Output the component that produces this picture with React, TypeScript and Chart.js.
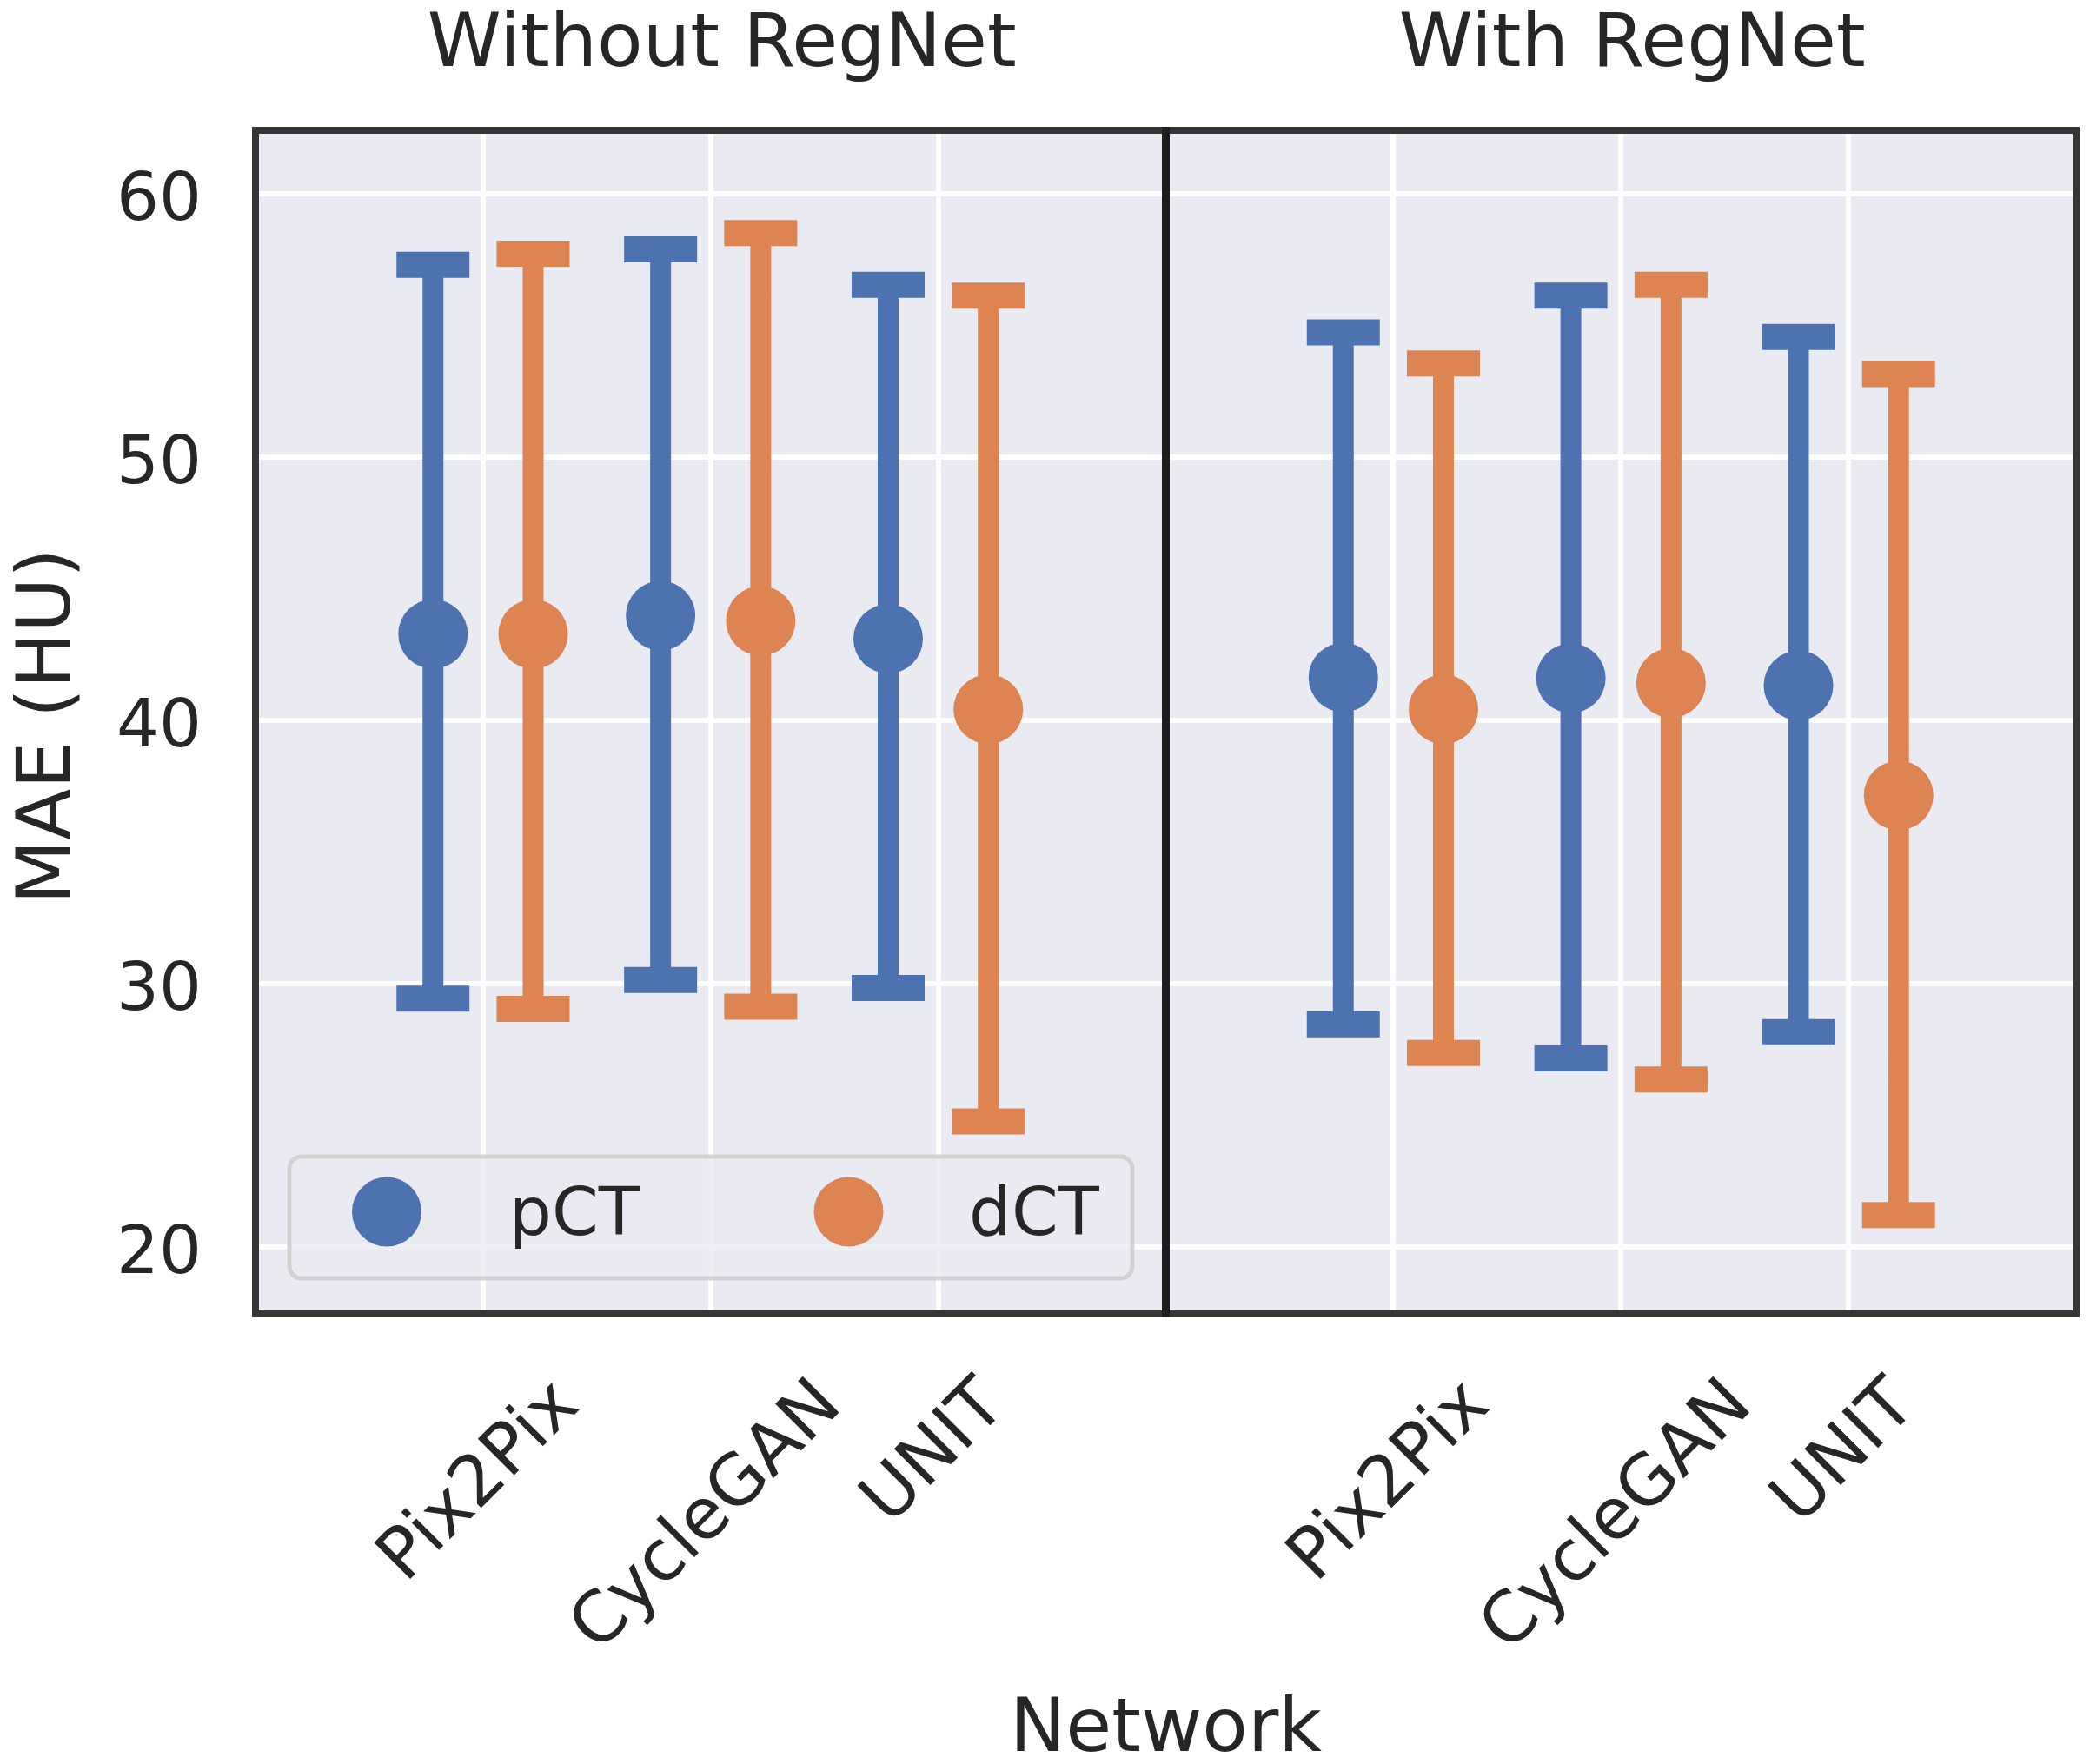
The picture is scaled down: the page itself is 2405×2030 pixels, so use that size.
import React, { useEffect, useRef } from 'react';
import { Chart, registerables } from 'chart.js';

Chart.register(...registerables);

// ---------------- data ----------------
const CATEGORIES = ['Pix2Pix', 'CycleGAN', 'UNIT'];
const CATEGORY_POSITIONS = [0, 1, 2];
const PANEL_TITLES = ['Without RegNet', 'With RegNet'];
const SERIES_NAMES = ['pCT', 'dCT'];
const Y_TICKS = [20, 30, 40, 50, 60];
const Y_LABEL = 'MAE (HU)';
const X_LABEL = 'Network';

// Without RegNet
const PCT_WITHOUT_MEAN = [43.27, 43.97, 43.09];
const PCT_WITHOUT_LOW = [29.42, 30.13, 29.83];
const PCT_WITHOUT_HIGH = [57.29, 57.88, 56.53];
const DCT_WITHOUT_MEAN = [43.27, 43.77, 40.41];
const DCT_WITHOUT_LOW = [29.03, 29.12, 24.76];
const DCT_WITHOUT_HIGH = [57.71, 58.5, 56.12];

// With RegNet
const PCT_WITH_MEAN = [41.62, 41.59, 41.32];
const PCT_WITH_LOW = [28.45, 27.15, 28.15];
const PCT_WITH_HIGH = [54.73, 56.12, 54.55];
const DCT_WITH_MEAN = [40.41, 41.41, 37.14];
const DCT_WITH_LOW = [27.36, 26.35, 21.2];
const DCT_WITH_HIGH = [53.55, 56.53, 53.14];

// ---------------- style ----------------
const BLUE = '#4c72b0';
const ORANGE = '#dd8452';
const SERIES_COLORS = [BLUE, ORANGE];
const BG = '#eaeaf2';
const TEXT = '#262626';
const FONT = '"DejaVu Sans", sans-serif';
const DODGE = 0.22;
const PANEL_AXES = ['xL', 'xR'];

type Series = { mean: number[]; low: number[]; high: number[] };

const PANELS: { axis: string; series: Series[] }[] = [
  {
    axis: 'xL',
    series: [
      { mean: PCT_WITHOUT_MEAN, low: PCT_WITHOUT_LOW, high: PCT_WITHOUT_HIGH },
      { mean: DCT_WITHOUT_MEAN, low: DCT_WITHOUT_LOW, high: DCT_WITHOUT_HIGH },
    ],
  },
  {
    axis: 'xR',
    series: [
      { mean: PCT_WITH_MEAN, low: PCT_WITH_LOW, high: PCT_WITH_HIGH },
      { mean: DCT_WITH_MEAN, low: DCT_WITH_LOW, high: DCT_WITH_HIGH },
    ],
  },
];

function buildDatasets() {
  const ds: any[] = [];
  PANELS.forEach((panel) => {
    panel.series.forEach((s, si) => {
      const off = si === 0 ? -DODGE : DODGE;
      const color = SERIES_COLORS[si];
      const stem: any[] = [];
      CATEGORY_POSITIONS.forEach((c, i) => {
        stem.push({ x: c + off, y: s.low[i] }, { x: c + off, y: s.high[i] }, { x: c + off, y: null });
      });
      ds.push({
        type: 'line',
        label: SERIES_NAMES[si] + ' sd',
        xAxisID: panel.axis,
        yAxisID: 'y',
        data: stem,
        borderColor: color,
        borderWidth: 24,
        borderCapStyle: 'butt',
        pointRadius: 0,
        pointHoverRadius: 0,
        spanGaps: false,
        fill: false,
        tension: 0,
        order: 2,
      });
      const caps: any[] = [];
      CATEGORY_POSITIONS.forEach((c, i) => {
        caps.push({ x: c + off, y: s.low[i] }, { x: c + off, y: s.high[i] });
      });
      ds.push({
        type: 'scatter',
        label: SERIES_NAMES[si] + ' caps',
        xAxisID: panel.axis,
        yAxisID: 'y',
        data: caps,
        pointStyle: 'line',
        pointRadius: 42,
        pointHoverRadius: 42,
        pointBorderWidth: 30,
        pointHoverBorderWidth: 30,
        pointBorderColor: color,
        pointBackgroundColor: color,
        order: 1,
      });
      ds.push({
        type: 'scatter',
        label: SERIES_NAMES[si],
        xAxisID: panel.axis,
        yAxisID: 'y',
        data: CATEGORY_POSITIONS.map((c, i) => ({ x: c + off, y: s.mean[i] })),
        pointStyle: 'circle',
        pointRadius: 40,
        pointHoverRadius: 40,
        pointBorderWidth: 0,
        pointBackgroundColor: color,
        pointBorderColor: color,
        order: 0,
      });
    });
  });
  return ds;
}

const decorPlugin = {
  id: 'decor',
  beforeDraw(chart: any) {
    const ctx = chart.ctx;
    const area = chart.chartArea;
    ctx.save();
    ctx.fillStyle = BG;
    ctx.fillRect(area.left, area.top, area.right - area.left, area.bottom - area.top);
    ctx.restore();
  },
  afterDraw(chart: any) {
    const ctx = chart.ctx;
    const area = chart.chartArea;
    ctx.save();

    // legend (inside left panel)
    const lx = 333, ly = 1331, lw = 970, lh = 140, lr = 14;
    ctx.beginPath();
    ctx.moveTo(lx + lr, ly);
    ctx.lineTo(lx + lw - lr, ly);
    ctx.arcTo(lx + lw, ly, lx + lw, ly + lr, lr);
    ctx.lineTo(lx + lw, ly + lh - lr);
    ctx.arcTo(lx + lw, ly + lh, lx + lw - lr, ly + lh, lr);
    ctx.lineTo(lx + lr, ly + lh);
    ctx.arcTo(lx, ly + lh, lx, ly + lh - lr, lr);
    ctx.lineTo(lx, ly + lr);
    ctx.arcTo(lx, ly, lx + lr, ly, lr);
    ctx.closePath();
    ctx.fillStyle = 'rgba(234,234,242,0.8)';
    ctx.fill();
    ctx.lineWidth = 5;
    ctx.strokeStyle = 'rgba(204,204,204,0.85)';
    ctx.stroke();
    const markerX = [445, 976.5];
    const textX = [586, 1115];
    SERIES_NAMES.forEach((name, i) => {
      ctx.beginPath();
      ctx.arc(markerX[i], 1394.5, 40, 0, Math.PI * 2);
      ctx.fillStyle = SERIES_COLORS[i];
      ctx.fill();
      ctx.fillStyle = TEXT;
      ctx.font = `77px ${FONT}`;
      ctx.textAlign = 'left';
      ctx.textBaseline = 'alphabetic';
      ctx.fillText(name, textX[i], 1421);
    });

    // frames
    ctx.lineWidth = 8;
    ctx.strokeStyle = '#363636';
    PANEL_AXES.forEach((id) => {
      const s = chart.scales[id];
      ctx.strokeRect(s.left, area.top, s.right - s.left, area.bottom - area.top);
    });
    const divX = chart.scales.xL.right;
    ctx.fillStyle = '#1c1c1c';
    ctx.fillRect(divX - 4.5, area.top - 4, 9, area.bottom - area.top + 8);

    // panel titles
    ctx.fillStyle = TEXT;
    ctx.font = `86px ${FONT}`;
    ctx.textAlign = 'center';
    ctx.textBaseline = 'alphabetic';
    PANEL_AXES.forEach((id, pi) => {
      const s = chart.scales[id];
      ctx.fillText(PANEL_TITLES[pi], (s.left + s.right) / 2 + 13, 76);
    });

    // x tick labels, rotated 45deg, centred under ticks
    ctx.font = `81px ${FONT}`;
    PANEL_AXES.forEach((id) => {
      const s = chart.scales[id];
      CATEGORY_POSITIONS.forEach((v, i) => {
        const px = s.getPixelForValue(v) - 3;
        const w = ctx.measureText(CATEGORIES[i]).width;
        const cy = area.bottom + 93 + w * 0.3536;
        ctx.save();
        ctx.translate(px, cy);
        ctx.rotate(-Math.PI / 4);
        ctx.textAlign = 'center';
        ctx.textBaseline = 'middle';
        ctx.fillText(CATEGORIES[i], 0, 0);
        ctx.restore();
      });
    });

    // axis titles
    ctx.font = `86px ${FONT}`;
    ctx.textAlign = 'center';
    ctx.textBaseline = 'alphabetic';
    ctx.fillText(X_LABEL, (area.left + area.right) / 2, 2015);
    ctx.save();
    ctx.translate(58, (area.top + area.bottom) / 2 + 5);
    ctx.rotate(-Math.PI / 2);
    ctx.textBaseline = 'middle';
    ctx.fillText(Y_LABEL, 0, 0);
    ctx.restore();

    ctx.restore();
  },
};

function xAxis() {
  return {
    type: 'linear',
    position: 'bottom',
    stack: 'panels',
    stackWeight: 1,
    min: -1,
    max: 3,
    offset: false,
    afterBuildTicks: (s: any) => {
      s.ticks = CATEGORY_POSITIONS.map((v) => ({ value: v }));
    },
    afterFit: (s: any) => {
      s.height = 518;
    },
    ticks: { display: false },
    grid: { color: '#ffffff', lineWidth: 6, drawTicks: false, offset: false },
    border: { display: false },
  };
}

export default function App() {
  const ref = useRef<HTMLCanvasElement>(null);
  useEffect(() => {
    const canvas = ref.current;
    if (!canvas) return;
    const chart = new Chart(canvas, {
      type: 'scatter',
      data: { datasets: buildDatasets() },
      plugins: [decorPlugin],
      options: {
        animation: false,
        responsive: false,
        devicePixelRatio: 1,
        events: [],
        layout: { autoPadding: false, padding: { top: 150, right: 16, bottom: 0, left: 0 } },
        plugins: {
          legend: { display: false },
          tooltip: { enabled: false },
          title: { display: false },
        },
        scales: {
          xL: xAxis(),
          xR: xAxis(),
          y: {
            type: 'linear',
            position: 'left',
            min: 17.45,
            max: 62.4,
            afterBuildTicks: (s: any) => {
              s.ticks = Y_TICKS.map((v) => ({ value: v }));
            },
            afterFit: (s: any) => {
              s.width = 294;
            },
            ticks: {
              font: { family: FONT, size: 77 },
              color: TEXT,
              padding: 62,
              labelOffset: 10,
              callback: (v: any) => String(v),
            },
            grid: { color: '#ffffff', lineWidth: 6, drawTicks: false },
            border: { display: false },
          },
        } as any,
      },
    } as any);
    return () => chart.destroy();
  }, []);
  return (
    <div style={{ position: 'absolute', left: 0, top: 0, width: 2405, height: 2030, background: '#ffffff' }}>
      <canvas ref={ref} width={2405} height={2030} style={{ display: 'block', width: 2405, height: 2030 }} />
    </div>
  );
}
